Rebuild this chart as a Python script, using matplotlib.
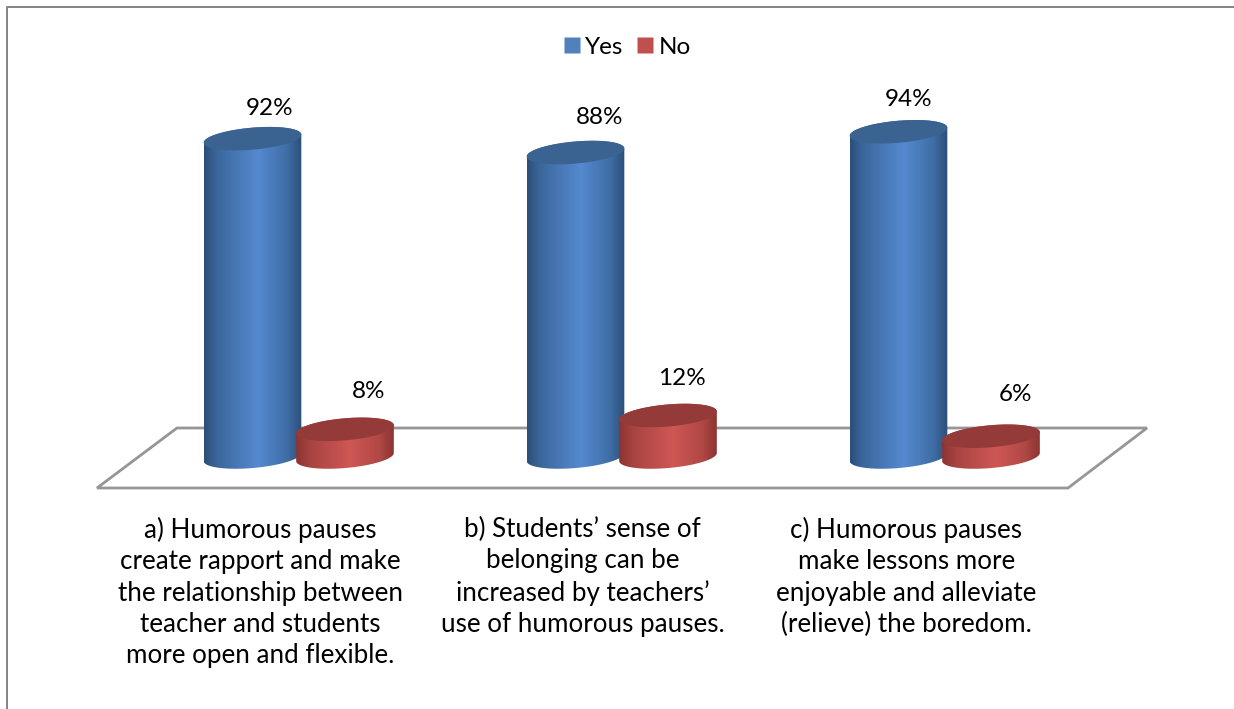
import numpy as np
import matplotlib
matplotlib.use("Agg")
import matplotlib.pyplot as plt
from matplotlib.colors import LinearSegmentedColormap
from matplotlib.lines import Line2D
from matplotlib.patches import Polygon

plt.rcParams["font.family"] = ["Lato", "DejaVu Sans"]

# -------------------------------------------------------------------
# DATOS
# -------------------------------------------------------------------
categorias = [
    "a) Humorous pauses\ncreate rapport and make\nthe relationship between\nteacher and students\nmore open and flexible.",
    "b) Students\u2019 sense of\nbelonging can be\nincreased by teachers\u2019\nuse of humorous pauses.",
    "c) Humorous pauses\nmake lessons more\nenjoyable and alleviate\n(relieve) the boredom.",
]
yes_vals = [92, 88, 94]
no_vals = [8, 12, 6]

# desplazamientos de las etiquetas (en pixeles) respecto a la tapa
yes_label_off = [(17, 30), (24, 35), (10, 32)]
no_label_off = [(24, 38), (14, 37), (24, 42)]

GRIS = "#868686"
GRIS_PISO = "#969696"
W, H = 1234, 709

PX_X = 323.0  # pixeles por categoria
PX_Y = 3.46  # pixeles por punto porcentual
RX, RY = 49.0, 11.0  # semiejes de la tapa
TILT = np.radians(5)
Y_MIN = -20

fig = plt.figure(figsize=(W / 100, H / 100), dpi=100)
x0, x1 = 137, 1106
y_base, y_top = 457 - Y_MIN * PX_Y, 457 - 100 * PX_Y
ax = fig.add_axes([x0 / W, 1 - y_base / H, (x1 - x0) / W, (y_base - y_top) / H])
ax.axis("off")


def elipse(cx, y, n=120):
    t = np.linspace(0, 2 * np.pi, n)
    dx = RX * np.cos(t) * np.cos(TILT) - RY * np.sin(t) * np.sin(TILT)
    dy = RX * np.cos(t) * np.sin(TILT) + RY * np.sin(t) * np.cos(TILT)
    return cx + dx / PX_X, y + dy / PX_Y


def cilindro(cx, valor, cmap, color_tapa, z):
    ex_top, ey_top = elipse(cx, valor)
    ex_bot, ey_bot = elipse(cx, 0)
    # mitad inferior de la base + mitad superior de la tapa
    i_left = np.argmin(ex_bot)
    i_right = np.argmax(ex_bot)
    n = len(ex_bot) - 1
    idx = np.arange(i_left, i_right + n + 1 if i_right < i_left else i_right + 1) % n
    xs = list(ex_bot[idx])
    ys = list(ey_bot[idx])
    idx2 = np.arange(i_right, i_left + n + 1 if i_left < i_right else i_left + 1) % n
    xs += list(ex_top[idx2])
    ys += list(ey_top[idx2])
    cuerpo = Polygon(np.column_stack([xs, ys]), closed=True, transform=ax.transData,
                     facecolor="none", edgecolor="none")
    ax.add_patch(cuerpo)
    grad = np.linspace(0, 1, 256).reshape(1, -1)
    im = ax.imshow(grad, cmap=cmap, aspect="auto", zorder=z,
                   extent=[cx - RX / PX_X, cx + RX / PX_X, -5, valor + 5])
    im.set_clip_path(cuerpo)
    ax.fill(ex_top, ey_top, color=color_tapa, lw=0, zorder=z + 0.1)


cmap_azul = LinearSegmentedColormap.from_list(
    "azul", [(0, "#2c4e78"), (0.12, "#3a659a"), (0.55, "#558ad0"), (0.85, "#3f6ea6"), (1, "#2c4e78")])
cmap_rojo = LinearSegmentedColormap.from_list(
    "rojo", [(0, "#8c3432"), (0.15, "#a84442"), (0.55, "#cf5754"), (0.85, "#b04845"), (1, "#8c3432")])

# piso
piso_x = [(97 - x0) / PX_X - 0.5, (1068 - x0) / PX_X - 0.5, (1147 - x0) / PX_X - 0.5, (177 - x0) / PX_X - 0.5]
piso_y = [-31 / PX_Y, -31 / PX_Y, 29 / PX_Y, 29 / PX_Y]
ax.fill(piso_x, piso_y, facecolor="white", edgecolor=GRIS_PISO, lw=2, zorder=1, clip_on=False)

sep_yes = -46 / PX_X
sep_no = 46.5 / PX_X
for i in range(len(categorias)):
    cilindro(i + sep_yes, yes_vals[i], cmap_azul, "#3b6391", 3)
    cilindro(i + sep_no, no_vals[i], cmap_rojo, "#943a38", 4)
    ax.text(i + sep_yes + yes_label_off[i][0] / PX_X, yes_vals[i] + yes_label_off[i][1] / PX_Y,
            f"{yes_vals[i]}%", ha="center", va="center", fontsize=17.5, color="black", zorder=6)
    ax.text(i + sep_no + no_label_off[i][0] / PX_X, no_vals[i] + no_label_off[i][1] / PX_Y,
            f"{no_vals[i]}%", ha="center", va="center", fontsize=17.5, color="black", zorder=6)

cat_dx = [-38.5, -39, -38]
for i, txt in enumerate(categorias):
    ax.text(i + cat_dx[i] / PX_X, -60 / PX_Y, txt, ha="center", va="top", fontsize=18.7,
            linespacing=1.31, color="black", clip_on=False)

ax.set_xlim(-0.5, 2.5)
ax.set_ylim(Y_MIN, 100)

# leyenda
handles = [
    Line2D([], [], marker="s", ls="", ms=11.5, mfc="#4f81bd", mec="none", label="Yes"),
    Line2D([], [], marker="s", ls="", ms=11.5, mfc="#c0504d", mec="none", label="No"),
]
fig.legend(handles=handles, loc="center", bbox_to_anchor=(624 / W, 1 - 47 / H), ncol=2, frameon=False,
           fontsize=17.5, handletextpad=-0.05, columnspacing=0.3, handlelength=1.2)

# borde del grafico (solo arriba e izquierda llegan a verse)
fig.add_artist(Line2D([7 / W, 7 / W, 1], [0, 1 - 7 / H, 1 - 7 / H], color=GRIS, lw=1.44))

fig.savefig("out.png", dpi=100)
